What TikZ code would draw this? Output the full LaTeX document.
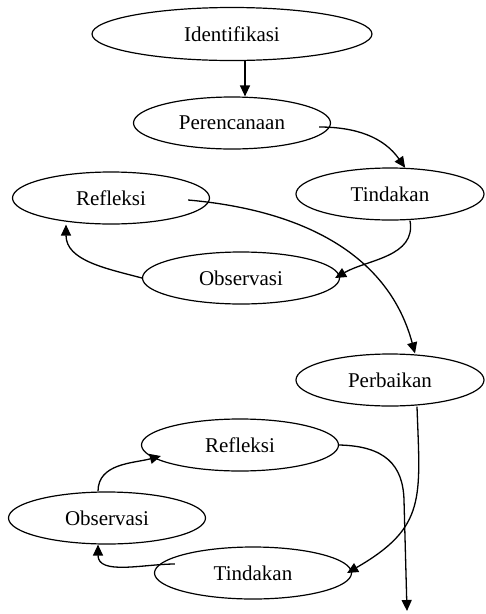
\documentclass[tikz,border=0pt]{standalone}
\usepackage{fontspec}
\setmainfont{Liberation Serif}
\usetikzlibrary{arrows.meta, shapes.geometric}
\tikzset{
  %% ellipse nodes
  stage/.style={ellipse, draw, line width=1.2pt, inner sep=0pt,
                minimum width=197pt, minimum height=52pt,
                font=\fontsize{21}{25}\selectfont},
  stageL/.style={stage, minimum width=280pt, minimum height=53pt}, % first stage
  stageN/.style={stage, minimum width=188pt},                      % right column
  %% edges
  flow/.style={draw, line width=1.3pt, -{Triangle[length=11pt, width=10pt]}},
}

\begin{document}
\begin{tikzpicture}[x=1pt, y=-1pt]

\useasboundingbox (0,0) rectangle (486,614);

%% --- first cycle ---
\node[stageL] (Iden) at (232, 34) {Identifikasi};
\node[stage]  (Pere) at (232,123) {Perencanaan};
\node[stageN] (Tin1) at (390,194) {Tindakan};
\node[stage]  (Ref1) at (111,198) {Refleksi};
\node[stage]  (Obs1) at (241,278) {Observasi};

%% --- second cycle ---
\node[stageN] (Perb) at (390,380) {Perbaikan};
\node[stage]  (Ref2) at (240,445) {Refleksi};
\node[stage]  (Obs2) at (107,518) {Observasi};
\node[stage]  (Tin2) at (253,573) {Tindakan};

%% free end of the last arrow
\coordinate (Next) at (407,611);

%% -- first cycle edges --
\draw[flow] ([xshift=13pt]Iden.south) -- ([xshift=13pt]Pere.north);
\draw[flow] ([xshift=-12pt,yshift=-4pt]Pere.east) to[out=0, in=125] (Tin1.60);
\draw[flow] ([xshift=20pt]Tin1.south) to[out=-80, in=30] ([xshift=-5pt]Obs1.east);
\draw[flow] (Obs1.west) to[out=165, in=-90] ([xshift=-45pt]Ref1.south);

%% -- into second cycle --
\draw[flow] ([xshift=-22pt,yshift=-2pt]Ref1.east) to[out=-5, in=105] ([xshift=25pt]Perb.north);

%% -- second cycle edges --
\draw[flow] ([xshift=27pt]Perb.south) to[out=-88, in=30, looseness=1.3] ([xshift=-5pt]Tin2.east);
\draw[flow] ([xshift=21pt,yshift=9pt]Tin2.west) to[out=180, in=-90] ([xshift=-9pt]Obs2.south);
\draw[flow] ([xshift=-9pt]Obs2.north) to[out=90, in=195] ([xshift=20pt,yshift=-11pt]Ref2.west);
\draw[flow] (Ref2.east) .. controls (385,446) and (403,465) .. (404,500) -- (Next);

\end{tikzpicture}
\end{document}
